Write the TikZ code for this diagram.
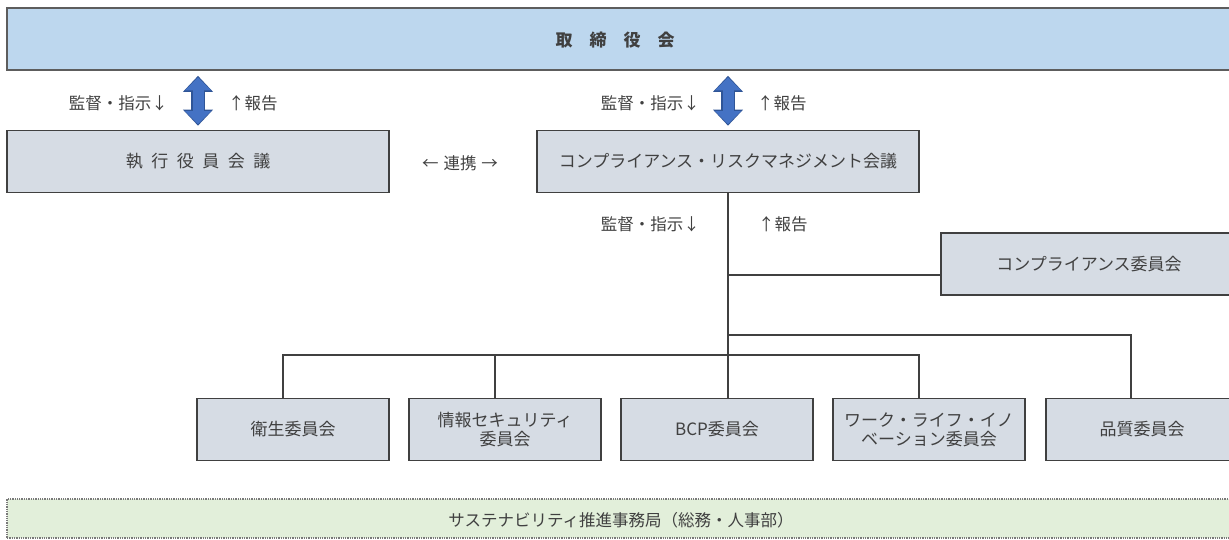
\documentclass[tikz,border=0pt]{standalone}
\usepackage{fontspec}
\setmainfont{Noto Sans CJK JP}
\usetikzlibrary{arrows.meta}
\definecolor{boardfill}{HTML}{BDD7EE}
\definecolor{boxfill}{HTML}{D6DCE4}
\definecolor{secfill}{HTML}{E2EFDA}
\definecolor{linec}{HTML}{404040}
\definecolor{txt}{HTML}{404040}
\definecolor{arrowblue}{HTML}{4472C4}
\definecolor{arrowedge}{HTML}{2F5597}
\begin{document}
\begin{tikzpicture}[x=1pt,y=-1pt,
  box/.style={draw=linec, line width=1.6pt, fill=boxfill, inner sep=0pt,
    minimum height=62pt, text=txt, font=\fontsize{17}{20}\selectfont, align=center},
  conn/.style={draw=linec, line width=1.6pt},
  lbl/.style={text=txt, font=\fontsize{16.5}{19}\selectfont, inner sep=0pt},
  bigarrowedge/.style={line width=14pt, arrowedge,
    {Triangle[width=29pt,length=16pt]}-{Triangle[width=29pt,length=16pt]}},
  bigarrow/.style={line width=11pt, arrowblue,
    {Triangle[width=25pt,length=13pt]}-{Triangle[width=25pt,length=13pt]}}
]
\useasboundingbox (0,0) rectangle (1229,539);
\clip (0,0) rectangle (1229,539);

% board
\node[draw=linec!85, line width=1.6pt, fill=boardfill, minimum width=1243pt,
  minimum height=62pt, inner sep=0pt] (board) at (628.5,39) {};
\node[text=txt, font=\bfseries\fontsize{17}{20}\selectfont, inner sep=0pt]
  (boardtxt) at (615,40) {取\hspace{1em}締\hspace{1em}役\hspace{1em}会};

% second row
\node[box, minimum width=382pt] (exec) at (198,161.5)
  {執\hspace{.5em}行\hspace{.5em}役\hspace{.5em}員\hspace{.5em}会\hspace{.5em}議};
\node[box, minimum width=382pt] (crm) at (728,161.5)
  {コンプライアンス・リスクマネジメント会議};
\node[lbl] (renkei) at (460,163) {←\hspace{.3em}連携\hspace{.3em}→};

% labels
\node[lbl, anchor=east] (l1a) at (168,103) {監督・指示↓};
\node[lbl, anchor=west] (l1b) at (228,103) {↑報告};
\node[lbl, anchor=east] (l2a) at (700,103) {監督・指示↓};
\node[lbl, anchor=west] (l2b) at (757,103) {↑報告};
\node[lbl, anchor=east] (l3a) at (700,224) {監督・指示↓};
\node[lbl, anchor=west] (l3b) at (758,224) {↑報告};

% committees
\node[box, minimum width=296pt] (cc) at (1089,264) {コンプライアンス委員会};
\node[box, minimum width=192pt] (eisei) at (293,429.5) {衛生委員会};
\node[box, minimum width=192pt, font=\fontsize{17}{19}\selectfont] (joho) at (505,429.5) {情報セキュリティ\\委員会};
\node[box, minimum width=192pt] (bcp) at (717,429.5) {BCP委員会};
\node[box, minimum width=192pt, font=\fontsize{17}{19}\selectfont] (work) at (929,429.5) {ワーク・ライフ・イノ\\ベーション委員会};
\node[box, minimum width=192pt] (quality) at (1142,429.5) {品質委員会};

% secretariat
\node[draw=linec!70, densely dotted, line width=1.3pt, fill=secfill, minimum width=1243pt,
  minimum height=39pt, inner sep=0pt] (sec) at (628.5,518.5) {};
\node[text=txt, font=\fontsize{16.5}{19}\selectfont, inner sep=0pt] (sectxt) at (621,520)
  {サステナビリティ推進事務局（総務・人事部）};

% big arrows
\draw[bigarrowedge] ([yshift=-5pt]board.south -| exec.north) -- ([yshift=4pt]exec.north);
\draw[bigarrow] ([yshift=-6.5pt]board.south -| exec.north) -- ([yshift=5.5pt]exec.north);
\draw[bigarrowedge] ([yshift=-5pt]board.south -| crm.north) -- ([yshift=4pt]crm.north);
\draw[bigarrow] ([yshift=-6.5pt]board.south -| crm.north) -- ([yshift=5.5pt]crm.north);

% tree
\coordinate (j1) at (728,275);
\coordinate (j2) at (728,335);
\coordinate (h2) at (0,355);
\draw[conn] (crm.south) -- (crm.south |- bcp.north);
\draw[conn] (j1) -- (j1 -| cc.west);
\draw[conn] (j2) -| ([xshift=-11pt]quality.north);
\draw[conn] ([xshift=-10pt]eisei.north) |- ([xshift=-10pt]work.north |- h2) -- ([xshift=-10pt]work.north);
\draw[conn] ([xshift=-10pt]joho.north) -- ([xshift=-10pt]joho.north |- h2);
\end{tikzpicture}
\end{document}
